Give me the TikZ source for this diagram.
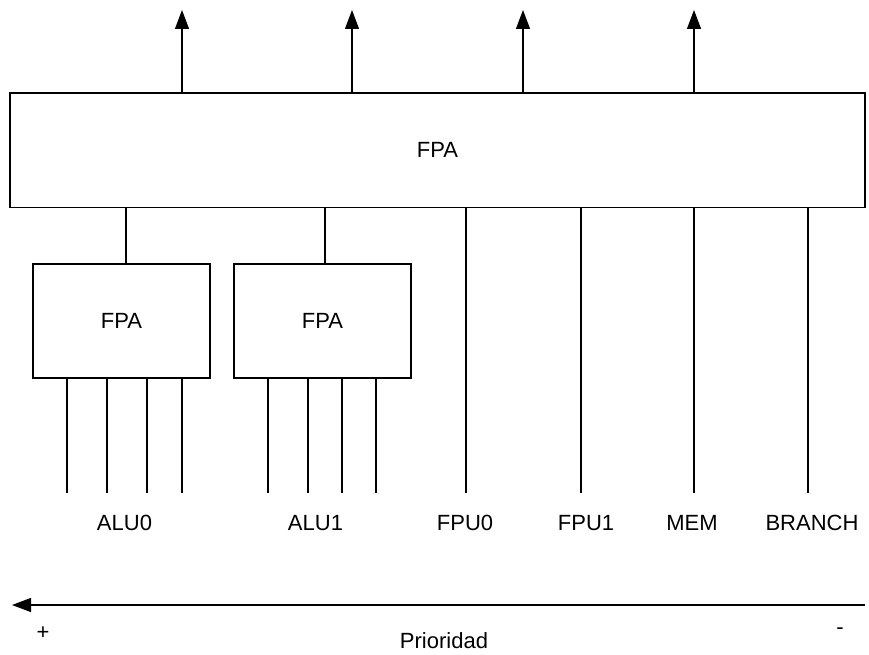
\documentclass[tikz,border=0pt]{standalone}
\usepackage{fontspec}
\setmainfont{Liberation Sans}
\usepackage{tikz}
\usetikzlibrary{positioning, arrows.meta}

\begin{document}
\begin{tikzpicture}[
    x=1pt, y=-1pt,
    every node/.style={font=\fontsize{22}{26}\selectfont},
    box/.style={rectangle, draw, line width=1.2pt, inner sep=0pt, outer sep=0pt},
    bigbox/.style={box, minimum width=855pt, minimum height=114.5pt},
    subbox/.style={box, minimum width=177pt, minimum height=114pt},
    lbl/.style={inner sep=0pt},
    unitlbl/.style={lbl, anchor=base},
    wire/.style={line width=1.2pt},
    arr/.style={wire, -{Triangle[length=19pt, width=14pt]}}
]
\useasboundingbox (0,0) rectangle (869,655);

\node[bigbox] (fpa) at (437.5,150.25) {FPA};
\node[subbox] (fpaA) at (121.5,321) {FPA};
\node[subbox] (fpaB) at (322.5,321) {FPA};

% outputs on top
\foreach \x [count=\i] in {182,352,523,694} {
    \coordinate (out\i) at (\x,10);
    \draw[arr] (fpa.north -| out\i) -- (out\i);
}

% links to the sub-arbiters
\draw[wire] (fpa.south -| 126,0) -- (fpaA.north -| 126,0);
\draw[wire] (fpa.south -| 325,0) -- (fpaB.north -| 325,0);

% inputs
\foreach \x [count=\i] in {67,107,147,182} {
    \coordinate (ina\i) at (\x,493);
    \draw[wire] (fpaA.south -| ina\i) -- (ina\i);
}
\foreach \x [count=\i] in {268,308,342,376} {
    \coordinate (inb\i) at (\x,493);
    \draw[wire] (fpaB.south -| inb\i) -- (inb\i);
}
\foreach \x/\n in {466/fpu0,581/fpu1,694/mem,808/br} {
    \coordinate (in\n) at (\x,493);
    \draw[wire] (fpa.south -| in\n) -- (in\n);
}

\node[unitlbl] (alu0) at (124.5,530.5) {ALU0};
\node[unitlbl] (alu1) at (315.5,530.5) {ALU1};
\node[unitlbl] (fpu0) at (465,530.5) {FPU0};
\node[unitlbl] (fpu1) at (586,530.5) {FPU1};
\node[unitlbl] (mem) at (692,530.5) {MEM};
\node[unitlbl] (branch) at (812,530.5) {BRANCH};

% priority axis
\coordinate (plow) at (865,605);
\coordinate (phigh) at (12,605);
\draw[arr] (plow) -- (phigh);
\node[lbl] (plus) at (43,633) {+};
\node[lbl] (minus) at (840,631) {-};
\node[unitlbl] (prio) at (444,648.5) {Prioridad};
\end{tikzpicture}
\end{document}
